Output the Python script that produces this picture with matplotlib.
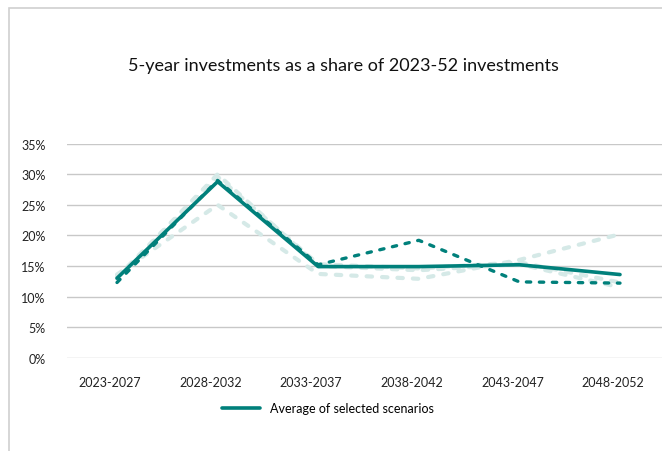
import matplotlib
matplotlib.use("Agg")
import matplotlib.pyplot as plt
import matplotlib.transforms as mtransforms
from matplotlib.lines import Line2D
from matplotlib.patches import Rectangle

categories = ["2023-2027", "2028-2032", "2033-2037", "2038-2042", "2043-2047", "2048-2052"]
average = [13.0, 28.8, 14.9, 14.9, 15.2, 13.6]
scenario_dark = [12.3, 29.0, 15.2, 19.2, 12.4, 12.2]
scenario_light_1 = [13.0, 30.0, 15.0, 14.3, 15.3, 11.5]
scenario_light_2 = [13.6, 25.0, 13.7, 12.9, 16.0, 20.2]
scenario_light_3 = [13.2, 29.6, 15.3, 14.6, 15.6, 12.3]
yticks = [0, 5, 10, 15, 20, 25, 30, 35]
title = "5-year investments as a share of 2023-52 investments"
legend_label = "Average of selected scenarios"

plt.rcParams['font.family'] = ['Lato', 'DejaVu Sans']

W, H = 662, 452
fig = plt.figure(figsize=(W / 100, H / 100), dpi=100)
fig.patch.set_facecolor("white")

# chart frame (clipped at right/bottom like the original)
fig.patches.append(Rectangle((9 / W, -0.1), 1.2, (H - 9) / H + 0.1, transform=fig.transFigure,
                             fill=False, edgecolor="#D0D0D0", linewidth=1.2))

left = 67 / W
bottom = (H - 358.7) / H
top = (H - 144.7) / H
ax = fig.add_axes([left, bottom, 1 - left, top - bottom])
ax.set_facecolor("none")

x = list(range(len(categories)))
teal = "#00807B"
light = "#D5E9E7"

for s in (scenario_light_2, scenario_light_1, scenario_light_3):
    ax.plot(x, s, color=light, linewidth=3.0, linestyle=(0, (1.3, 2.4)),
            dash_capstyle="round", solid_capstyle="round", zorder=2)
ax.plot(x, scenario_dark, color=teal, linewidth=2.4, linestyle=(0, (1.3, 2.6)),
        dash_capstyle="round", zorder=3)
ax.plot(x, average, color=teal, linewidth=2.6, solid_capstyle="round", zorder=4)

ax.set_ylim(0, 35)
ax.set_xlim(-0.497, (W - 117) / 100.6)
ax.set_yticks(yticks)
ax.set_yticklabels([f"{v}%" for v in yticks])
ax.set_xticks(x)
ax.set_xticklabels(categories)
ax.yaxis.grid(True, color="#C8C8C8", linewidth=1.0)
ax.set_axisbelow(True)
for sp in ax.spines.values():
    sp.set_visible(False)
ax.tick_params(axis="both", length=0, labelsize=9, colors="#222222")
ax.tick_params(axis="y", pad=15.5)
ax.tick_params(axis="x", pad=13.5)

off = mtransforms.ScaledTranslation(-7 / 100, 0, fig.dpi_scale_trans)
for lbl in ax.get_xticklabels():
    lbl.set_transform(lbl.get_transform() + off)

fig.text(343 / W, 1 - 66 / H, title, ha="center", va="center", fontsize=13, color="#111111")

handle = Line2D([], [], color=teal, linewidth=2.6, solid_capstyle="round")
fig.legend([handle], [legend_label], loc="center", bbox_to_anchor=(328 / W, 1 - 409 / H),
           frameon=False, fontsize=9, handlelength=3.0, handletextpad=0.8)

fig.savefig("out.png", dpi=100)
